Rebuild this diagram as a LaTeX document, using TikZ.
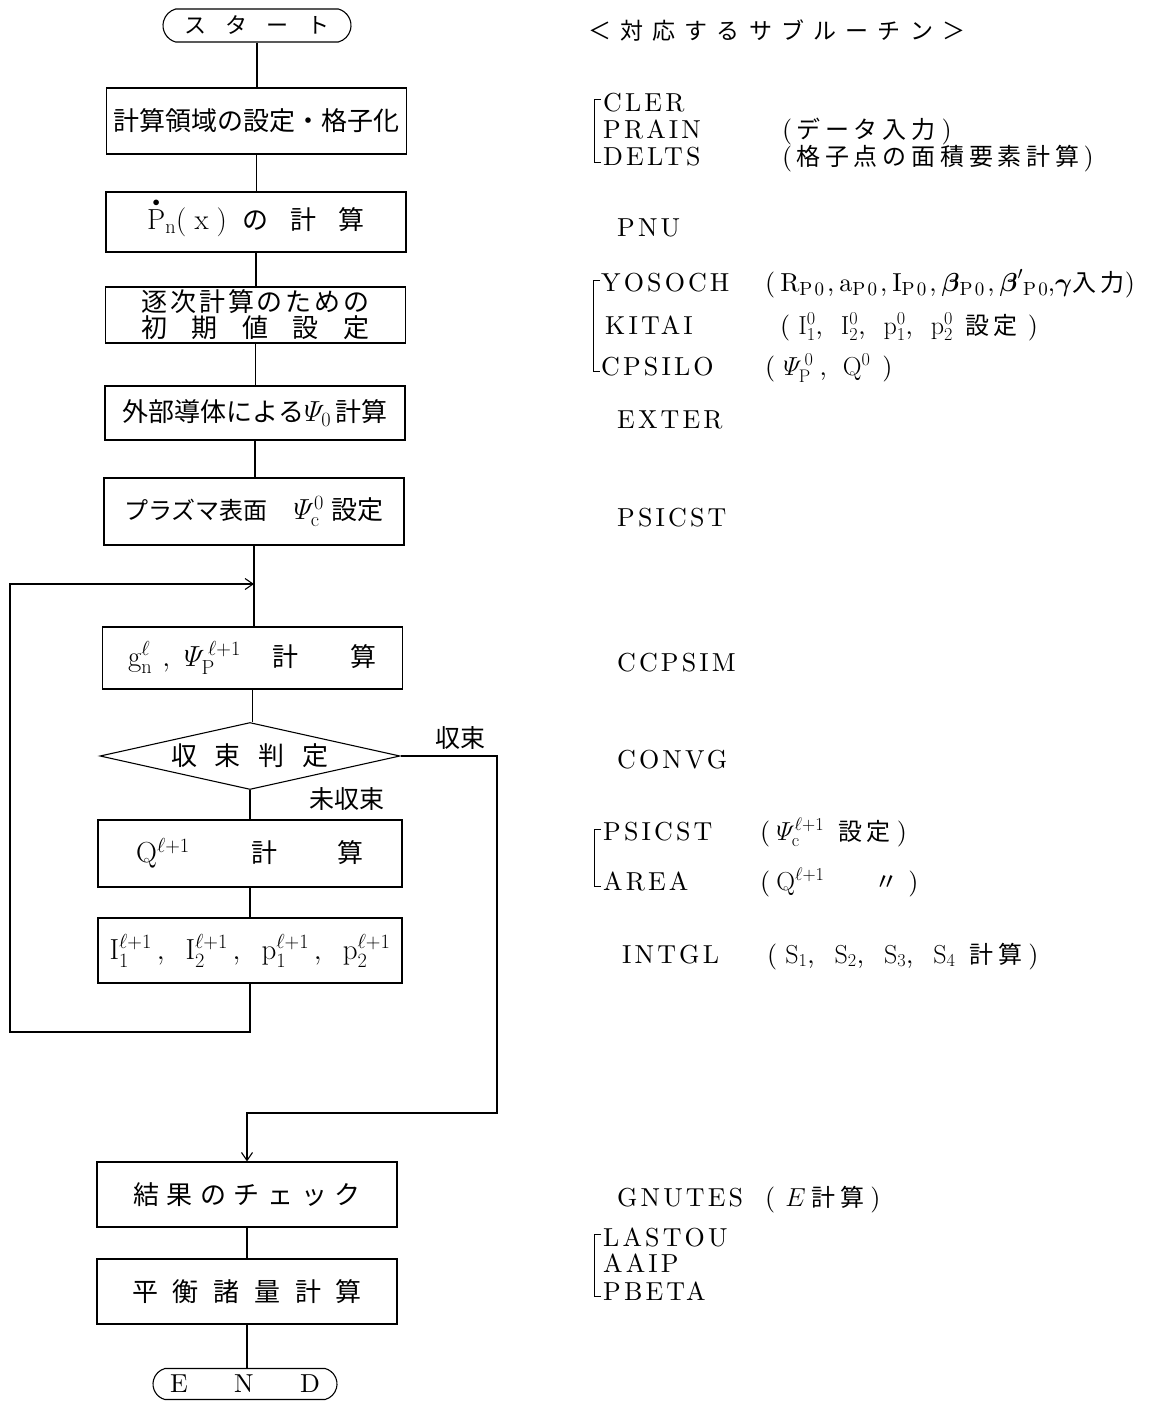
\RequirePackage{fix-cm}
\documentclass[tikz,border=0pt]{standalone}
\usepackage{amsmath,amssymb}
\usepackage{fontspec}
\newfontfamily\cjk{Noto Sans CJK JP}
\newfontfamily\cjksp{Noto Sans CJK JP}[LetterSpace=20]
\newfontfamily\lmsp{lmroman10-regular.otf}[LetterSpace=12]
\usetikzlibrary{shapes.geometric,shapes.misc,arrows.meta,calc}

\newcommand\bxf{\cjk\fontsize{26}{30}\selectfont}
\newcommand\stf{\cjk\fontsize{22}{26}\selectfont}
\newcommand\jpl{\cjk\fontsize{25}{29}\selectfont}
\newcommand\hdf{\cjk\fontsize{23}{27}\selectfont}
\newcommand\rtf{\lmsp\fontsize{26}{30}\selectfont}
\newcommand\enfont{\lmsp\fontsize{26}{30}\selectfont}
\newcommand\jps{\cjksp\fontsize{24}{28}\selectfont}
\newcommand\spr[2]{\makebox[#1][s]{#2}}
\newcommand\mth[1]{{\fontsize{29}{33}\selectfont$#1$}}
\newcommand\sbs[1]{\raisebox{-4pt}{\fontsize{19}{21}\selectfont #1}}

\begin{document}
\begin{tikzpicture}[x=1pt,y=-1pt,
  proc/.style={draw, line width=1.1pt, minimum width=300pt, inner sep=0pt, font=\bxf, align=center},
  term/.style={draw, line width=1.1pt, rounded rectangle, rounded rectangle arc length=150, inner sep=0pt},
  dec/.style={draw, line width=1.1pt, diamond, aspect=4.4, inner sep=0pt, minimum width=300pt, minimum height=67pt, font=\bxf},
  conn/.style={line width=1.1pt},
  arr/.style={line width=1.1pt, -{Straight Barb[length=8pt,width=11pt]}},
  rt/.style={anchor=base west, inner sep=0pt, font=\rtf},
  lbl/.style={inner sep=0pt, font=\jpl},
  brk/.style={line width=1pt}]

\fill[white] (0,0) rectangle (1155,1409);
\useasboundingbox (0,0) rectangle (1155,1409);

% ---------------- flowchart ----------------
\node[term, minimum width=188pt, minimum height=33pt, font=\stf] (start) at (257,25.5)
  {\spr{145pt}{ス\hfill タ\hfill ー\hfill ト}};
\node[proc, minimum height=66pt] (b1) at (256.5,121) {計算領域の設定・格子化};
\node[proc, minimum height=60pt] (b2) at (256,222)
  {\mth{\smash[t]{\overset{\raisebox{-3pt}{$\scriptscriptstyle\bullet$}}{\mathrm P}}_{\mathrm n}(\;\mathrm x\;)}\hspace{16pt}の\hspace{22pt}計\hspace{22pt}算};
\node[proc, minimum height=56pt] (b3) at (255.5,315)
  {\spr{228pt}{逐\hfill 次\hfill 計\hfill 算\hfill の\hfill た\hfill め\hfill の}\\[-4pt]
   \spr{228pt}{初\hfill 期\hfill 値\hfill 設\hfill 定}};
\node[proc, minimum height=54pt] (b4) at (255,413) {外部導体による\mth{\varPsi_{0}}\hspace{4pt}計算};
\node[proc, minimum height=67pt] (b5) at (254,511.5)
  {{\fontsize{24}{28}\selectfont プラズマ表面}\hspace{26pt}\mth{\varPsi_{\mathrm c}^{0}}\hspace{8pt}設定};
\node[proc, minimum height=62pt] (b6) at (252.5,658)
  {\mth{\mathrm g_{\mathrm n}^{\ell}}\hspace{10pt}\mth{,}\hspace{14pt}\mth{\varPsi_{\mathrm P}^{\,\ell+1}}\hspace{32pt}計\hspace{52pt}算};
\node[dec] (dia) at (250,756) {収\hspace{18pt}束\hspace{18pt}判\hspace{18pt}定};
\node[proc, minimum width=304pt, minimum height=67pt] (b7) at (250,853.5)
  {\mth{\mathrm Q^{\ell+1}}\hspace{62pt}計\hspace{60pt}算};
\node[proc, minimum width=304pt, minimum height=65pt] (b8) at (250,950.5)
  {\mth{\mathrm I_1^{\ell+1}\,,\;\;\mathrm I_2^{\ell+1}\,,\;\;\mathrm p_1^{\ell+1}\,,\;\;\mathrm p_2^{\ell+1}}};
\node[proc, minimum height=65pt] (b9) at (247,1194.5)
  {\spr{228pt}{結\hfill 果\hfill の\hfill チ\hfill ェ\hfill ッ\hfill ク}};
\node[proc, minimum height=65pt] (b10) at (247,1291.5)
  {\spr{230pt}{平\hfill 衡\hfill 諸\hfill 量\hfill 計\hfill 算}};
\node[term, minimum width=184pt, minimum height=31pt, font=\enfont] (end) at (245,1384)
  {\spr{150pt}{E\hfill N\hfill D}};

\node[lbl] (lconv) at (460,738) {収束};
\node[lbl] (lnconv) at (347,799) {未収束};

% connectors
\draw[conn] (start.south) -- (start.south |- b1.north);
\draw[conn] (b1.south) -- (b1.south |- b2.north);
\draw[conn] (b2.south) -- (b2.south |- b3.north);
\draw[conn] (b3.south) -- (b3.south |- b4.north);
\draw[conn] (b4.south) -- (b4.south |- b5.north);
\draw[conn] (b5.south) -- (b5.south |- b6.north);
\coordinate (j) at (b5.south |- 0,584);
\draw[conn] (b6.south) -- (b6.south |- dia.north);
\draw[conn] (dia.south) -- (dia.south |- b7.north);
\draw[conn] (b7.south) -- (b7.south |- b8.north);
\coordinate (loopL) at (10,1032);
\draw[arr] (b8.south) |- (loopL) |- (j);
\coordinate (convR) at (497,1113);
\draw[arr] (dia.east) -| (convR) -| (b9.north);
\draw[conn] (b9.south) -- (b9.south |- b10.north);
\draw[conn] (b10.south) -- (b10.south |- end.north);

% ---------------- subroutine column ----------------
\node[anchor=base west, inner sep=0pt, font=\hdf] (hdr) at (588,39)
  {\spr{377pt}{＜\hfill 対\hfill 応\hfill す\hfill る\hfill サ\hfill ブ\hfill ル\hfill ー\hfill チ\hfill ン\hfill ＞}};

\node[rt] (cler) at (603,111) {CLER};
\node[rt] (prain) at (603,138) {PRAIN};
\node[rt] (delts) at (603,165) {DELTS};
\node[rt] (pprain) at (782,138) {(\hspace{4pt}{\jps データ入力}\hspace{6pt})};
\node[rt] (pdelts) at (782,165) {(\hspace{4pt}{\jps 格子点の面積要素計算}\hspace{4pt})};
\draw[brk] (601,99) -- (594,99) -- (594,162) -- (601,162);

\node[rt] (pnu) at (617,236) {PNU};

\node[rt] (yosoch) at (601,291) {YOSOCH};
\node[rt] (kitai) at (605,334) {KITAI};
\node[rt] (cpsilo) at (601,375) {CPSILO};
\node[rt] (pyosoch) at (765,291)
  {(\hspace{5pt}R\sbs{P0}\hspace{3pt},\hspace{5pt}a\sbs{P0}\hspace{3pt},\hspace{5pt}I\sbs{P0}\hspace{3pt},\hspace{5pt}$\boldsymbol\beta$\sbs{P0}\hspace{3pt},\hspace{5pt}$\boldsymbol\beta'$\sbs{P0},$\boldsymbol\gamma${\jps 入力})};
\node[rt] (pkitai) at (780,334)
  {(\hspace{8pt}$\mathrm I_1^0$,\hspace{18pt}$\mathrm I_2^0$,\hspace{18pt}$\mathrm p_1^0$,\hspace{18pt}$\mathrm p_2^0$\hspace{12pt}{\jps 設定}\hspace{10pt})};
\node[rt] (pcpsilo) at (765,375) {(\hspace{8pt}$\varPsi_{\mathrm P}^{\,0}$\hspace{6pt},\hspace{16pt}$\mathrm Q^{0}$\hspace{12pt})};
\draw[brk] (600,280) -- (593,280) -- (593,371) -- (600,371);

\node[rt] (exter) at (617,428) {EXTER};
\node[rt] (psicst) at (617,526) {PSICST};
\node[rt] (ccpsim) at (617,671) {CCPSIM};
\node[rt] (convg) at (617,768) {CONVG};

\node[rt] (psicst2) at (603,840) {PSICST};
\node[rt] (area) at (603,890) {AREA};
\node[rt] (ppsicst2) at (760,840) {(\hspace{6pt}$\varPsi_{\mathrm c}^{\ell+1}$\hspace{14pt}{\jps 設定}\hspace{6pt})};
\node[rt] (parea) at (760,890) {(\hspace{6pt}$\mathrm Q^{\ell+1}$\hspace{50pt}{\jps 〃}\hspace{10pt})};
\draw[brk] (601,829) -- (594,829) -- (594,886) -- (601,886);

\node[rt] (intgl) at (622,963) {INTGL};
\node[rt] (pintgl) at (767,963) {(\hspace{8pt}$\mathrm S_1$,\hspace{20pt}$\mathrm S_2$,\hspace{20pt}$\mathrm S_3$,\hspace{20pt}$\mathrm S_4$\hspace{14pt}{\jps 計算}\hspace{6pt})};

\node[rt] (gnutes) at (617,1206) {GNUTES};
\node[rt] (pgnutes) at (765,1206) {(\hspace{10pt}$E$\hspace{6pt}{\jps 計算}\hspace{6pt})};

\node[rt] (lastou) at (603,1246) {LASTOU};
\node[rt] (aaip) at (603,1272) {AAIP};
\node[rt] (pbeta) at (603,1300) {PBETA};
\draw[brk] (601,1234) -- (594,1234) -- (594,1296) -- (601,1296);

\end{tikzpicture}
\end{document}
